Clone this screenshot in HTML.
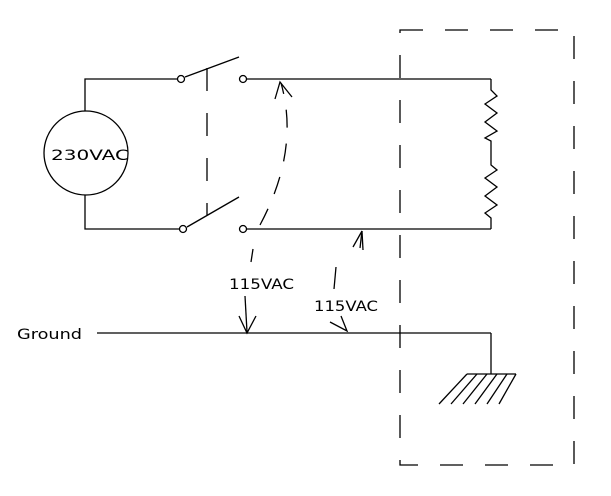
<!DOCTYPE html>
<html><head><style>html,body{margin:0;padding:0;background:#fff}svg{display:block}</style></head>
<body>
<svg width="611" height="496" viewBox="0 0 611 496" xmlns="http://www.w3.org/2000/svg" fill="none" stroke="#000" stroke-width="1.3">
<circle cx="86" cy="153" r="42"/>
<polyline points="85,111 85,79 177,79"/>
<polyline points="85,195 85,229 179,229"/>
<circle cx="181" cy="79" r="3.5"/>
<circle cx="183" cy="229" r="3.5"/>
<circle cx="243" cy="79" r="3.5"/>
<circle cx="243" cy="229" r="3.5"/>
<line x1="185" y1="77" x2="239" y2="57"/>
<line x1="187" y1="227" x2="239" y2="197"/>
<line x1="207" y1="68" x2="207" y2="215" stroke-dasharray="23,22"/>
<line x1="247" y1="79" x2="491" y2="79"/>
<line x1="247" y1="229" x2="491" y2="229"/>
<polyline points="491,79 491,90 497,96 485,104 497,113 485,122 497,131 485,138 491,141 491,165 497,170 485,178 497,187 485,196 497,205 485,213 491,218 491,229"/>
<rect x="400" y="30" width="174" height="435" stroke-dasharray="23,22"/>
<line x1="97" y1="333" x2="491" y2="333"/>
<line x1="491" y1="333" x2="491" y2="374"/>
<line x1="467" y1="374" x2="516" y2="374"/>
<g>
<line x1="467" y1="374" x2="439" y2="404"/><line x1="477" y1="374" x2="451" y2="404"/><line x1="487" y1="374" x2="463" y2="404"/><line x1="497" y1="374" x2="475" y2="404"/><line x1="507" y1="374" x2="487" y2="404"/><line x1="516" y1="374" x2="499" y2="404"/>
</g>
<path d="M260,225 Q300,150 281,83" stroke-dasharray="18,16"/>
<polyline points="275,99 280,82 292,97"/>
<line x1="253" y1="249" x2="251" y2="262"/>
<line x1="245" y1="296" x2="247" y2="332"/>
<polyline points="239,316 247,333 256,316"/>
<line x1="336" y1="267" x2="334" y2="289"/>
<polyline points="330,322 347,331 341,316"/>
<path d="M362,231 L363,250" />
<polyline points="353,247 362,231 360,248"/>
<g fill="#000" stroke="none" font-family="DejaVu Sans, sans-serif" font-size="14" font-weight="normal">
<text x="51" y="160" textLength="78" lengthAdjust="spacingAndGlyphs">230VAC</text>
<text x="229" y="289" textLength="65" lengthAdjust="spacingAndGlyphs">115VAC</text>
<text x="314" y="311" textLength="64" lengthAdjust="spacingAndGlyphs">115VAC</text>
<text x="17" y="339" textLength="65" lengthAdjust="spacingAndGlyphs">Ground</text>
</g>
</svg>
</body></html>
